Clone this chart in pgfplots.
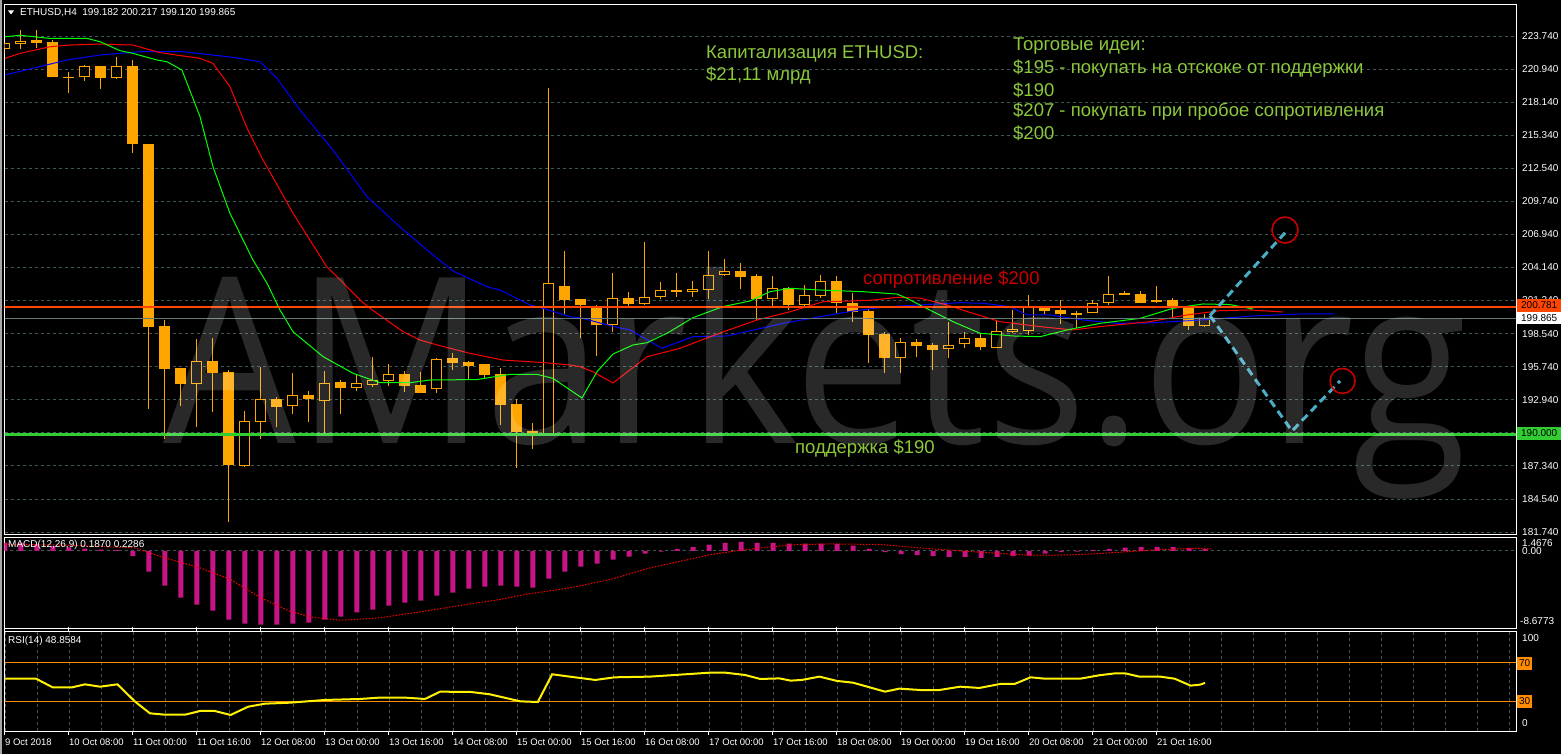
\documentclass[border=0pt]{standalone}
\usepackage{graphicx}
\usepackage{pgfplots}
\pgfplotsset{compat=1.18}
\usepackage{pgfplotstable}
\usepackage{fontspec}
\setmainfont{Liberation Sans}
\newfontfamily\wmfont{Open Sans}

\definecolor{candle}{RGB}{255,165,0}
\definecolor{gridc}{RGB}{62,86,86}
\definecolor{resc}{RGB}{255,69,0}
\definecolor{supc}{RGB}{50,205,50}
\definecolor{txtgreen}{RGB}{140,200,60}
\definecolor{txtred}{RGB}{200,0,0}
\definecolor{macdc}{RGB}{199,21,133}
\definecolor{rsilvl}{RGB}{255,140,0}
\definecolor{dashblue}{RGB}{75,172,198}
\definecolor{circred}{RGB}{200,0,0}
\definecolor{curline}{RGB}{100,122,122}

% bearish (filled) candles
\pgfplotstableread{
i O H L C
2 223.38 224.25 222.75 223.17
3 223.26 223.40 220.25 220.29
4 220.24 220.72 218.94 220.20
6 221.17 221.17 219.25 220.21
8 221.17 221.71 213.86 214.62
9 214.60 214.60 192.18 199.12
10 199.18 199.69 189.64 195.57
11 195.63 195.63 192.41 194.30
13 196.22 198.17 191.93 195.23
14 195.29 195.46 182.61 187.39
17 193.00 193.20 190.61 192.35
19 193.34 193.66 191.08 193.00
21 194.44 194.61 191.76 193.96
25 195.09 195.35 193.62 194.13
26 194.16 195.29 193.54 193.54
28 196.47 196.92 195.46 196.07
29 196.11 196.22 194.70 195.82
30 195.94 195.94 194.70 195.06
31 195.09 195.65 190.83 192.52
32 192.55 192.98 187.13 190.21
33 190.27 190.97 188.79 190.01
35 202.57 205.53 200.20 201.38
36 201.47 201.47 198.19 200.94
37 200.82 200.96 196.67 199.29
39 201.55 202.06 200.73 201.07
42 202.23 203.67 201.61 202.09
46 203.82 204.49 202.29 203.36
47 203.42 203.61 199.69 201.50
49 202.38 202.49 200.54 200.94
52 202.99 203.42 200.26 201.11
53 201.16 202.00 199.55 200.34
54 200.48 200.62 196.08 198.42
55 198.51 198.68 195.18 196.50
57 197.85 198.06 196.53 197.52
58 197.58 197.77 195.46 197.15
61 198.14 198.51 197.15 197.43
65 200.82 200.82 200.17 200.48
66 200.54 201.38 199.35 200.20
67 200.31 200.45 198.99 200.14
70 201.89 202.15 201.81 201.85
71 201.89 202.15 201.16 201.16
72 201.38 202.57 201.16 201.24
73 201.38 201.55 199.97 200.68
74 200.68 200.68 198.85 199.21
}\bear

% bullish (hollow) candles
\pgfplotstableread{
i O H L C
0 222.66 223.20 222.19 223.17
1 223.09 224.25 222.66 223.34
5 220.24 221.31 219.95 221.17
7 220.21 221.96 220.10 221.17
12 194.30 198.08 190.66 196.19
15 187.33 191.99 187.27 191.14
16 191.08 195.74 189.64 193.00
18 192.39 195.18 191.71 193.31
20 192.81 195.40 190.01 194.33
22 193.96 195.12 193.70 194.33
23 194.21 196.56 193.99 194.59
24 194.55 195.94 194.13 195.09
27 193.87 196.50 193.54 196.37
34 190.01 219.34 190.01 202.80
38 199.29 203.70 198.70 201.53
40 201.07 206.32 200.96 201.61
41 201.67 202.91 201.47 202.21
43 202.09 202.97 201.67 202.29
44 202.26 205.53 201.45 203.48
45 203.48 204.86 203.42 203.82
48 201.50 203.44 200.71 202.38
50 200.96 202.63 200.88 201.81
51 201.75 203.50 201.58 202.97
56 196.50 198.14 195.18 197.83
59 197.21 199.55 196.45 197.58
60 197.63 198.65 197.30 198.14
62 197.35 199.69 197.35 198.74
63 198.70 200.54 198.57 198.93
64 198.76 201.81 198.42 200.82
68 200.26 201.38 200.26 201.11
69 201.11 203.42 200.96 201.89
75 199.182 200.217 199.120 199.865
}\bull

\pgfplotsset{
  mtpanel/.style={
    scale only axis, width=1511.5pt,
    xmin=-0.03, xmax=94.44,
    axis line style={white, line width=1pt},
    major tick length=0pt, minor tick length=0pt,
    minor xtick={0,2,...,94}, xminorgrids=true,
    minor x grid style={gridc, dash pattern=on 3pt off 3pt, line width=0.8pt},
    major y grid style={gridc, dash pattern=on 3pt off 3pt, line width=0.8pt},
  },
}
\tikzset{lab/.style={font=\fontsize{10}{12}\selectfont, text=white, inner sep=0pt}}

\begin{document}
\begin{tikzpicture}
\fill[black] (0pt,0pt) rectangle (1561pt,-754pt);
\useasboundingbox (0pt,0pt) rectangle (1561pt,-754pt);
\fill[black!35] (0pt,0pt) rectangle (2pt,-754pt);

% ---------------- main price panel ----------------
\begin{axis}[mtpanel,
  at={(4.5pt,-4.5pt)}, anchor=north west, height=529.5pt,
  ymin=181.57, ymax=226.41,
  xtick=\empty,
  ytick={181.74,184.54,187.34,190.14,192.94,195.74,198.54,201.34,204.14,206.94,209.74,212.54,215.34,218.14,220.94,223.74},
  yticklabels={181.740,184.540,187.340,,192.940,195.740,198.540,201.340,204.140,206.940,209.740,212.540,215.340,218.140,220.940,223.740},
  yticklabel pos=right, ymajorgrids=true,
  yticklabel style={font=\fontsize{10}{12}\selectfont, text=white, anchor=west, inner sep=0pt, xshift=6pt},
]
% wicks
\addplot[draw=none, mark=none, forget plot, error bars/.cd, y dir=plus, y explicit, error mark=none,
  error bar style={draw=candle, line width=1pt}]
  table[x=i, y=L, y error plus expr={\thisrow{H}-\thisrow{L}}] {\bear};
\addplot[draw=none, mark=none, forget plot, error bars/.cd, y dir=plus, y explicit, error mark=none,
  error bar style={draw=candle, line width=1pt}]
  table[x=i, y=L, y error plus expr={\thisrow{H}-\thisrow{L}}] {\bull};
% bodies
\addplot[draw=none, mark=none, forget plot, error bars/.cd, y dir=plus, y explicit, error mark=none,
  error bar style={draw=candle, line width=11pt}]
  table[x=i, y=C, y error plus expr={max(\thisrow{O}-\thisrow{C},0.09)}] {\bear};
\addplot[draw=none, mark=none, forget plot, error bars/.cd, y dir=plus, y explicit, error mark=none,
  error bar style={draw=candle, line width=11pt}]
  table[x=i, y=O, y error plus expr={\thisrow{C}-\thisrow{O}}] {\bull};
\addplot[draw=none, mark=none, forget plot, error bars/.cd, y dir=plus, y explicit, error mark=none,
  error bar style={draw=black, line width=9pt}]
  table[x=i, y expr={\thisrow{O}+0.085}, y error plus expr={\thisrow{C}-\thisrow{O}-0.17}] {\bull};

% alligator lines
\addplot[blue, line width=1pt] coordinates {(0,220.44) (3.88,221.71) (5.94,222.13) (8.44,222.41) (11.13,222.41) (14.25,221.94) (15.94,221.56) (17.0,220.16) (18.44,217.47) (20.5,214.09) (22.63,210.13) (24.69,207.57) (26.38,205.62) (28.0,203.84) (30.13,202.51) (30.94,202.23) (32.81,200.96) (33.63,200.68) (35.31,199.97) (36.13,199.83) (37.19,199.44) (38.25,199.07) (39.06,198.85) (41.06,197.30) (43.0,198.28) (45.13,198.34) (48.63,199.41) (50.94,199.97) (53.0,200.45) (55.13,200.82) (57.63,201.00) (59.69,201.16) (61.13,201.11) (62.81,200.82) (63.88,200.12) (65.31,200.12) (67.38,199.69) (69.5,199.41) (71.56,199.44) (74.69,199.69) (78.0,200.03) (80.94,200.20) (83.06,200.22)};
\addplot[red, line width=1pt] coordinates {(0,221.85) (0.94,222.27) (2.81,222.83) (4.06,222.98) (5.94,223.06) (8.0,222.98) (9.69,222.33) (12.19,221.85) (13.0,221.43) (14.06,219.45) (15.13,215.95) (16.13,213.24) (17.19,210.70) (18.0,208.73) (20.13,204.17) (20.75,203.36) (22.19,201.39) (22.81,200.68) (24.88,198.70) (25.94,198.00) (27.0,197.58) (27.81,197.30) (29.06,196.87) (31.13,196.30) (33.63,196.09) (35.31,195.88) (35.94,195.74) (36.75,195.31) (38.0,194.36) (40.13,196.58) (42.19,197.30) (44.69,198.59) (47.0,199.69) (49.06,200.39) (51.13,201.24) (52.81,201.30) (54.25,201.38) (55.75,201.61) (57.19,201.55) (58.88,200.96) (60.4,200.30) (62.19,199.55) (64.69,199.13) (66.75,198.85) (68.44,199.13) (71.56,199.55) (73.88,200.12) (75.94,200.48) (77.81,200.54) (79.88,200.37)};
\addplot[green, line width=1pt] coordinates {(0,223.68) (0.94,223.80) (2.81,223.54) (5.13,223.54) (5.94,223.26) (7.19,222.50) (8.0,222.27) (9.5,221.71) (10.13,221.56) (11.06,220.86) (12.19,216.91) (13.0,212.67) (14.06,208.73) (15.5,204.77) (16.38,202.80) (17.19,200.54) (18.0,198.70) (19.88,196.59) (21.75,195.18) (23.44,194.38) (25.31,194.38) (26.56,194.61) (29.5,194.65) (31.56,195.09) (33.25,195.09) (34.25,194.75) (36.06,193.09) (37.0,195.31) (38.0,196.81) (39.25,197.58) (40.13,197.77) (41.38,198.57) (43.0,199.89) (44.88,200.83) (46.56,201.30) (47.81,202.09) (49.06,202.38) (50.94,202.23) (53.63,202.09) (55.75,201.89) (56.38,201.53) (57.38,200.82) (59.25,199.55) (60.94,198.57) (63.0,198.34) (64.69,198.28) (66.38,198.85) (68.44,199.41) (70.94,199.83) (73.0,200.68) (74.88,201.05) (76.56,201.00) (78.0,200.62)};

% horizontal levels
\addplot[curline, line width=0.9pt] coordinates {(-1,199.865) (100,199.865)};
\addplot[resc, line width=2.6pt] coordinates {(-1,200.781) (100,200.781)};
\addplot[supc, line width=2.6pt] coordinates {(-1,190.0) (100,190.0)};

% forecast path
\addplot[dashblue, line width=3pt, dash pattern=on 8pt off 5pt] coordinates {(75.31,200.07) (80.0,207.08)};
\addplot[dashblue, line width=3pt, dash pattern=on 8pt off 5pt] coordinates {(75.31,200.07) (80.44,190.29) (83.44,194.53)};
\addplot[only marks, mark=o, mark size=13pt, mark options={draw=circred, line width=1.6pt}] coordinates {(80.0,207.31)};
\addplot[only marks, mark=o, mark size=12.5pt, mark options={draw=circred, line width=1.6pt}] coordinates {(83.6,194.53)};
\end{axis}

% watermark
\node[anchor=base west, inner sep=0pt, text=white, text opacity=0.16, font=\wmfont\fontsize{232}{240}\selectfont] at (163pt,-443pt) {\scalebox{0.905}[1]{AMarkets.org}};

% ---------------- MACD panel ----------------
\begin{axis}[mtpanel,
  at={(4.5pt,-537.5pt)}, anchor=north west, height=91pt,
  ymin=-8.848, ymax=1.525,
  xtick=\empty, ytick={0}, yticklabels={}, ymajorgrids=true,
]
\addplot[ybar, bar width=5pt, fill=macdc, draw=none] coordinates {(0,0.95) (1,0.90) (2,0.80) (3,0.55) (4,0.40) (5,0.25) (6,0.15) (7,0.10) (8,-0.61) (9,-2.36) (10,-3.95) (11,-5.32) (12,-6.12) (13,-6.81) (14,-7.83) (15,-8.29) (16,-8.40) (17,-8.40) (18,-8.29) (19,-8.17) (20,-7.83) (21,-7.49) (22,-7.00) (23,-6.69) (24,-6.24) (25,-5.89) (26,-5.67) (27,-5.10) (28,-4.75) (29,-4.30) (30,-4.07) (31,-3.95) (32,-4.07) (33,-4.18) (34,-3.16) (35,-2.36) (36,-1.79) (37,-1.44) (38,-0.99) (39,-0.65) (40,-0.30) (41,-0.08) (42,0.23) (43,0.46) (44,0.72) (45,0.91) (46,1.03) (47,0.91) (48,0.91) (49,0.84) (50,0.84) (51,0.84) (52,0.76) (53,0.61) (54,0.23) (55,-0.15) (56,-0.38) (57,-0.49) (58,-0.61) (59,-0.68) (60,-0.68) (61,-0.80) (62,-0.68) (63,-0.61) (64,-0.53) (65,-0.30) (66,-0.15) (67,-0.08) (68,0.11) (69,0.23) (70,0.38) (71,0.46) (72,0.46) (73,0.46) (74,0.34) (75,0.187)};
\addplot[red, line width=1pt, dash pattern=on 1.5pt off 1.5pt] coordinates {(0,0.75) (4,0.65) (8.1,0.34) (10,-0.8) (12.2,-1.94) (14.1,-3.27) (16.0,-5.36) (17.8,-6.88) (19.1,-7.53) (21.0,-7.91) (23.4,-7.64) (25.9,-6.96) (28.4,-6.24) (30.9,-5.55) (32.8,-4.87) (35.3,-4.22) (37.8,-3.27) (40.3,-1.94) (42.2,-1.18) (44.1,-0.42) (46.0,0.08) (47.8,0.46) (49.5,0.70) (51.6,0.80) (54.7,0.72) (57.2,0.34) (59.1,0.08) (61.6,-0.23) (64.1,-0.50) (66.6,-0.46) (68.4,-0.30) (70.3,-0.08) (72.2,0.15) (74.1,0.27) (75.4,0.23)};
\end{axis}

% ---------------- RSI panel ----------------
\begin{axis}[mtpanel,
  at={(4.5pt,-631pt)}, anchor=north west, height=100pt,
  ymin=-0.41, ymax=102.05,
  ytick=\empty,
  xtick={0,4,...,72},
  xticklabels={9 Oct 2018, 10 Oct 08:00, 11 Oct 00:00, 11 Oct 16:00, 12 Oct 08:00, 13 Oct 00:00, 13 Oct 16:00, 14 Oct 08:00, 15 Oct 00:00, 15 Oct 16:00, 16 Oct 08:00, 17 Oct 00:00, 17 Oct 16:00, 18 Oct 08:00, 19 Oct 00:00, 19 Oct 16:00, 20 Oct 08:00, 21 Oct 00:00, 21 Oct 16:00},
  xticklabel style={font=\fontsize{9.5}{11}\selectfont, text=white, anchor=west, inner sep=0pt, yshift=-7pt},
  tick align=outside, xtick style={draw=white, line width=1pt},
  major tick length=4pt,
]
\addplot[rsilvl, line width=1pt] coordinates {(-1,70) (100,70)};
\addplot[rsilvl, line width=1pt] coordinates {(-1,30) (100,30)};
\addplot[yellow, line width=2pt] coordinates {(0,53.2) (1.94,53.2) (2.97,44.4) (4.22,44.4) (5.0,47.4) (5.94,45.0) (7.03,47.4) (8.13,29.7) (9.06,17.7) (10.0,16.3) (11.25,16.3) (12.2,20.1) (13.1,20.1) (14.1,16.0) (15.2,24.5) (16.25,27.6) (17.8,28.6) (20.0,31.4) (22.2,32.4) (23.4,33.8) (25.0,33.8) (26.25,32.4) (27.2,39.9) (29.1,39.6) (30.3,37.2) (32.2,30.0) (33.3,29.3) (34.2,57.7) (35.3,55.3) (36.9,51.9) (38.1,54.6) (40.3,55.3) (44.1,59.4) (45.0,59.4) (46.25,57.0) (47.2,52.9) (48.4,53.5) (49.1,51.2) (49.8,51.9) (50.9,55.3) (52.0,50.9) (53.0,49.1) (53.9,45.0) (55.0,39.9) (55.9,43.0) (57.2,41.6) (58.4,41.6) (59.7,45.0) (60.9,43.7) (62.2,47.8) (63.1,47.8) (64.1,54.6) (65.0,53.2) (67.2,53.2) (68.4,56.7) (69.4,58.7) (70.0,58.7) (70.9,55.3) (72.2,55.3) (73.1,53.2) (74.1,46.1) (74.7,47.1) (75.0,48.86)};
\end{axis}

% ---------------- texts ----------------
\fill[white] (8pt,-10.5pt) -- (14pt,-10.5pt) -- (11pt,-14.5pt) -- cycle;
\node[lab, anchor=west] at (20pt,-12.5pt) {ETHUSD,H4\ \ 199.182 200.217 199.120 199.865};
\node[lab, anchor=west] at (8pt,-545pt) {MACD(12,26,9) 0.1870 0.2286};
\node[lab, anchor=west] at (8pt,-641pt) {RSI(14) 48.8584};

\node[lab, anchor=west] at (1522pt,-543pt) {1.4676};
\node[lab, anchor=west] at (1522pt,-551.5pt) {0.00};
\node[lab, anchor=west] at (1520pt,-621pt) {-8.6773};
\node[lab, anchor=west] at (1522pt,-638pt) {100};
\node[lab, anchor=west] at (1522pt,-723pt) {0};
\node[lab, text=black, fill=rsilvl, anchor=west, minimum width=15pt, minimum height=13pt] at (1517pt,-663pt) {70};
\node[lab, text=black, fill=rsilvl, anchor=west, minimum width=15pt, minimum height=13pt] at (1517pt,-701pt) {30};

\node[lab, text=black, fill=resc, anchor=west, minimum width=44pt, minimum height=13pt] at (1517pt,-305pt) {200.781};
\node[lab, text=black, fill=white, anchor=west, minimum width=44pt, minimum height=12.5pt] at (1517pt,-318pt) {199.865};
\node[lab, text=black, fill=supc, anchor=west, minimum width=44pt, minimum height=13pt] at (1517pt,-433pt) {190.000};

\begin{scope}[every node/.style={anchor=west, inner sep=0pt, text=txtgreen, font=\fontsize{18.5}{20}\selectfont}]
\node at (706pt,-54pt) {Капитализация ETHUSD:};
\node at (706pt,-76pt) {\$21,11 млрд};
\node at (1013pt,-46pt) {Торговые идеи:};
\node at (1013pt,-68.5pt) {\$195 - покупать на отскоке от поддержки};
\node at (1013pt,-90pt) {\$190};
\node at (1013pt,-111.5pt) {\$207 - покупать при пробое сопротивления};
\node at (1013pt,-133pt) {\$200};
\node at (795pt,-449pt) {поддержка \$190};
\node[text=txtred] at (863pt,-280pt) {сопротивление \$200};
\end{scope}
\end{tikzpicture}
\end{document}
